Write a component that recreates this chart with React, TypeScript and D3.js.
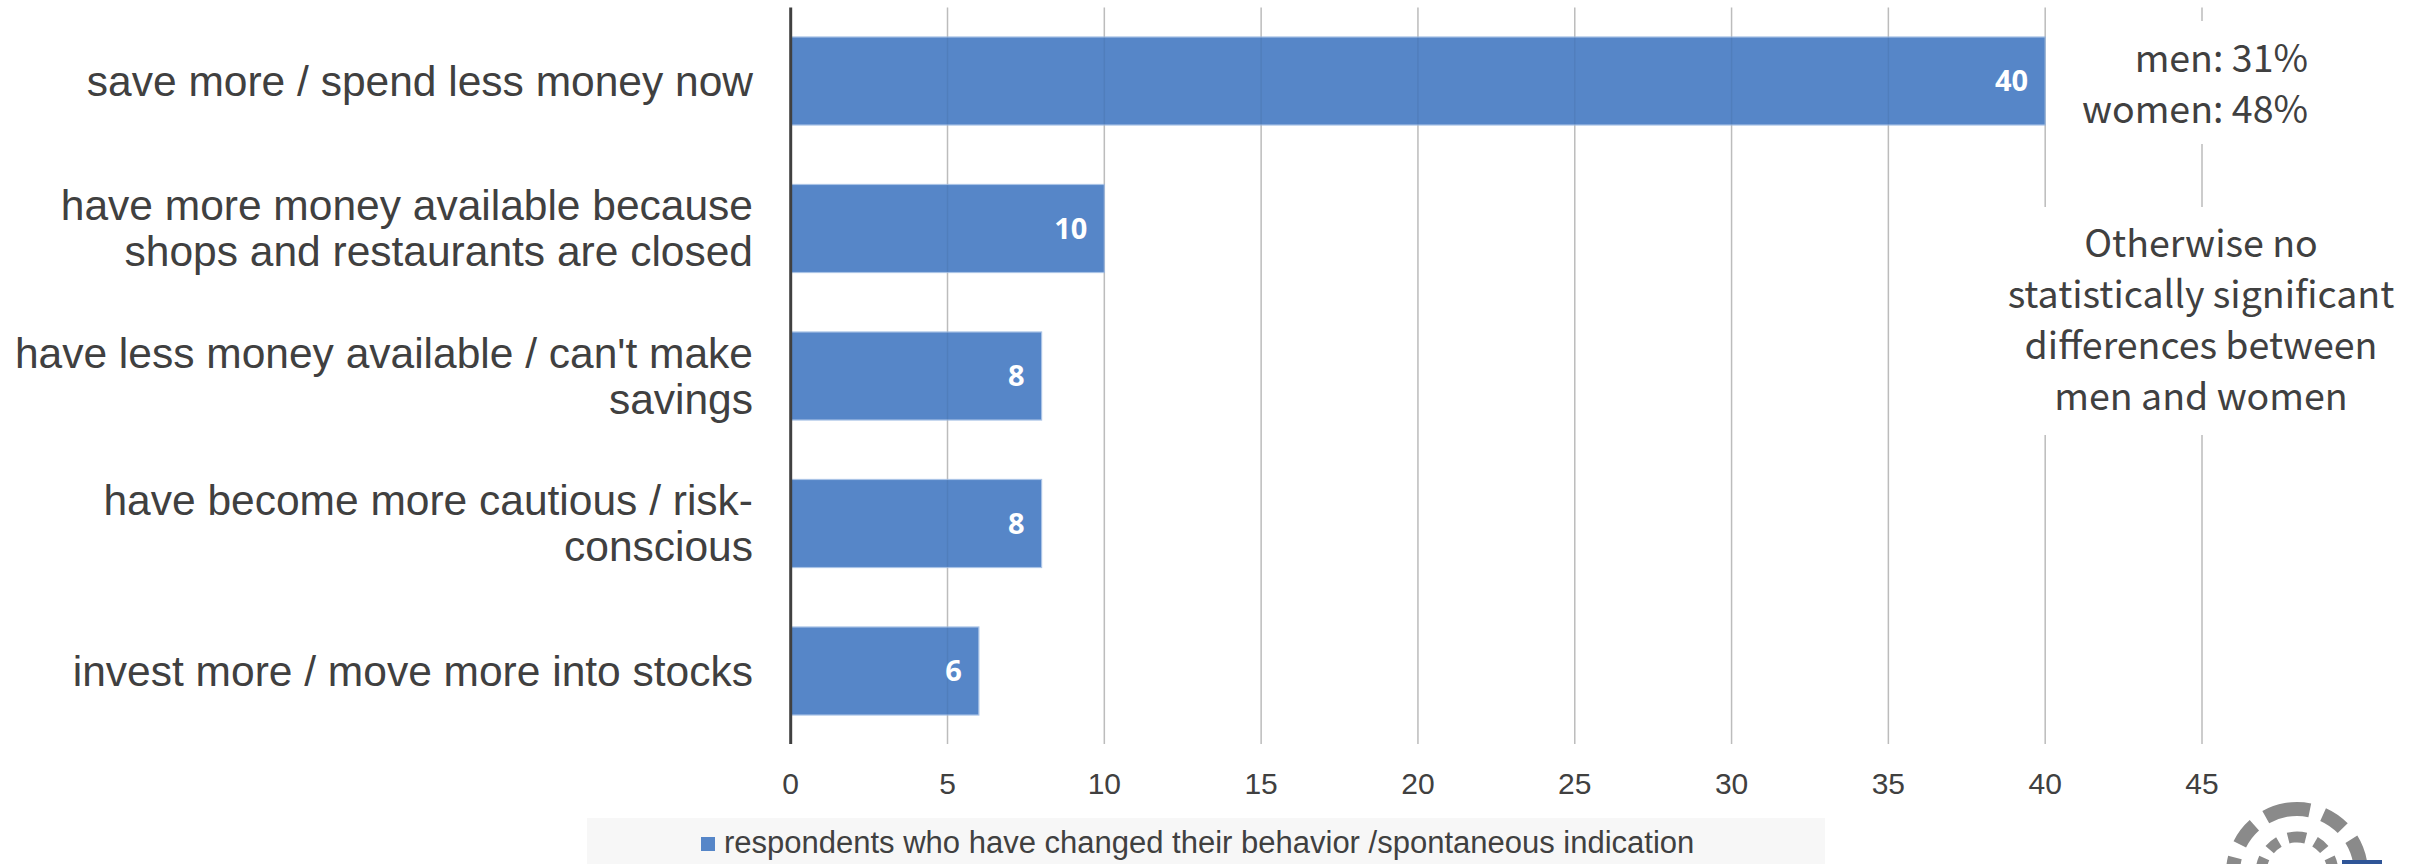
import React from "react";
import * as d3 from "d3";

const categories: string[][] = [
  ["save more / spend less money now"],
  ["have more money available because", "shops and restaurants are closed"],
  ["have less money available / can't make", "savings"],
  ["have become more cautious / risk-", "conscious"],
  ["invest more / move more into stocks"],
];
const values: number[] = [40, 10, 8, 8, 6];
const xTicks: number[] = [0, 5, 10, 15, 20, 25, 30, 35, 40, 45];
const legendLabel = "respondents who have changed their behavior /spontaneous indication";
const noteGender: string[] = ["men: 31%", "women: 48%"];
const noteOther: string[] = ["Otherwise no", "statistically significant", "differences between", "men and women"];

const W = 2425;
const H = 864;
const BAR = "#5686C8";
const TXT = "#404040";

export default function App() {
  const x = d3.scaleLinear().domain([0, 45]).range([790.7, 2202]);
  const y = d3
    .scaleBand<number>()
    .domain(d3.range(categories.length))
    .range([7.25, 744.75])
    .paddingInner(0.403)
    .paddingOuter(0.2015);

  const sans = "'Liberation Sans', Arial, sans-serif";
  const jp = "'Noto Sans CJK JP', 'Noto Sans', sans-serif";
  const lineH = 46;

  return (
    <svg
      width={W}
      height={H}
      style={{ position: "absolute", left: 0, top: 0, display: "block", background: "#fff" }}
    >
      {/* gridlines under bars */}
      {xTicks.slice(1).map((t) => (
        <line key={"g" + t} x1={x(t)} x2={x(t)} y1={7.5} y2={744} stroke="#c8c8c8" strokeWidth={1.5} />
      ))}
      {/* bars */}
      {values.map((v, i) => (
        <rect
          key={"b" + i}
          x={x(0)}
          y={y(i)!}
          width={x(v) - x(0)}
          height={y.bandwidth()}
          fill={BAR}
          stroke="#a9c3e6"
          strokeWidth={1.2}
        />
      ))}
      {/* faint gridlines over bars */}
      {xTicks.slice(1).map((t) => (
        <line key={"go" + t} x1={x(t)} x2={x(t)} y1={7.5} y2={744} stroke="#000" strokeOpacity={0.06} strokeWidth={1.5} />
      ))}
      {/* axis line */}
      <line x1={x(0)} x2={x(0)} y1={7.5} y2={744} stroke={TXT} strokeWidth={3} />
      {/* data labels */}
      {values.map((v, i) => (
        <text
          key={"v" + i}
          x={x(v) - 17}
          y={y(i)! + y.bandwidth() / 2}
          dy="0.36em"
          textAnchor="end"
          fill="#fff"
          fontFamily="'Open Sans', sans-serif"
          fontWeight={700}
          fontSize={29}
        >
          {v}
        </text>
      ))}
      {/* category labels */}
      {categories.map((lines, i) => {
        const cy = y(i)! + y.bandwidth() / 2;
        const start = cy - ((lines.length - 1) * lineH) / 2;
        return (
          <text key={"c" + i} textAnchor="end" fill={TXT} fontFamily={sans} fontSize={42.5}>
            {lines.map((l, j) => (
              <tspan key={j} x={753} y={start + j * lineH} dy="0.35em">
                {l}
              </tspan>
            ))}
          </text>
        );
      })}
      {/* x tick labels */}
      {xTicks.map((t) => (
        <text key={"t" + t} x={x(t)} y={794} textAnchor="middle" fill={TXT} fontFamily={sans} fontSize={30}>
          {t}
        </text>
      ))}
      {/* annotation boxes */}
      <rect x={2090} y={21} width={240} height={123} fill="#fff" />
      <rect x={2000} y={207} width={400} height={228} fill="#fff" />
      {noteGender.map((s, i) => (
        <text key={"n" + i} x={2308} y={72 + i * 51} textAnchor="end" fill={TXT} fontFamily={jp} fontSize={37.5}>
          {s}
        </text>
      ))}
      {noteOther.map((s, i) => (
        <text key={"o" + i} x={2201} y={257 + i * 51} textAnchor="middle" fill={TXT} fontFamily={jp} fontSize={37.5}>
          {s}
        </text>
      ))}
      {/* legend */}
      <rect x={587} y={818} width={1238} height={46} fill="#f7f7f7" />
      <rect x={701} y={837} width={14} height={14} fill={BAR} />
      <text x={724} y={853} fill={TXT} fontFamily={sans} fontSize={31}>
        {legendLabel}
      </text>
      {/* logo fragment */}
      <g fill="none" stroke="#8a8a8a">
        <circle cx={2297} cy={873} r={64} strokeWidth={14} strokeDasharray="24 14" transform="rotate(-100 2297 873)" />
        <circle cx={2297} cy={873} r={36} strokeWidth={11} strokeDasharray="12 10" transform="rotate(-95 2297 873)" />
      </g>
      <rect x={2342} y={860} width={40} height={4} fill="#2f5597" />
    </svg>
  );
}
